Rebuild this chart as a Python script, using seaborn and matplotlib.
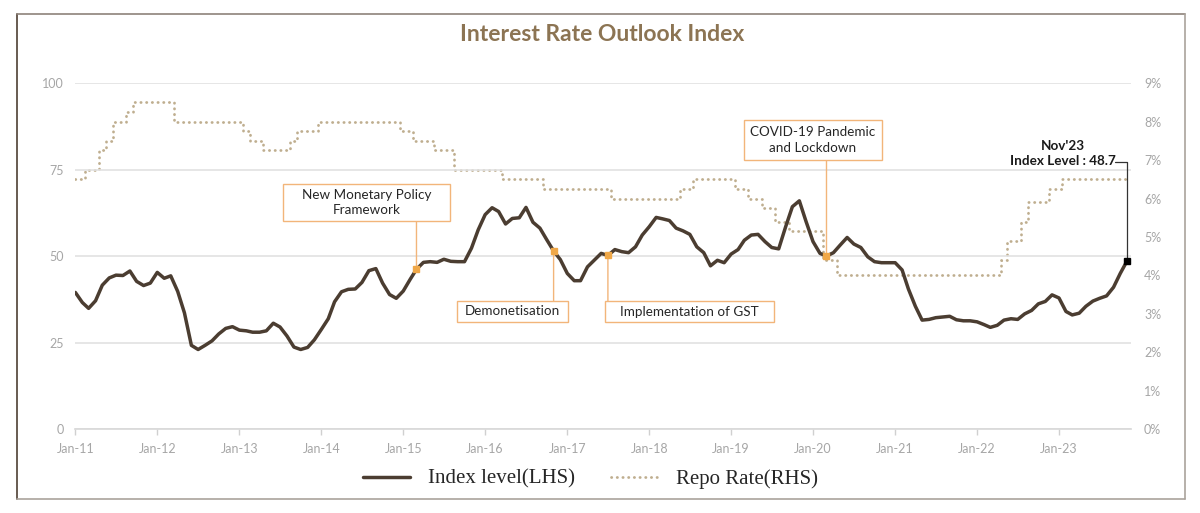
import pandas as pd
import matplotlib.pyplot as plt
import matplotlib.dates as mdates
import seaborn as sns
from matplotlib.lines import Line2D
from matplotlib.patches import Rectangle
from matplotlib.ticker import FuncFormatter

# Monthly data, Jan-11 to Nov-23
months = pd.date_range('2011-01-01', '2023-11-01', freq='MS')

index_level = [
    39.5, 36.6, 34.9, 37.1, 41.6, 43.7, 44.5, 44.4, 45.7, 42.7, 41.5, 42.2,  # 2011
    45.3, 43.6, 44.3, 39.8, 33.6, 24.2, 23.0, 24.2, 25.5, 27.5, 29.1, 29.6,  # 2012
    28.6, 28.4, 28.0, 28.0, 28.4, 30.6, 29.5, 26.9, 23.7, 23.0, 23.6, 25.8,  # 2013
    28.8, 31.9, 36.8, 39.7, 40.4, 40.5, 42.4, 45.8, 46.4, 42.2, 38.9, 37.8,  # 2014
    39.9, 43.3, 46.2, 48.2, 48.4, 48.2, 49.1, 48.5, 48.4, 48.4, 52.3, 57.6,  # 2015
    62.0, 64.0, 62.9, 59.3, 60.9, 61.1, 64.1, 59.8, 58.1, 54.8, 51.5, 49.0,  # 2016
    45.0, 42.9, 42.9, 46.9, 48.8, 50.8, 50.2, 51.9, 51.3, 51.0, 52.7, 56.1,  # 2017
    58.5, 61.2, 60.8, 60.3, 58.1, 57.3, 56.3, 52.7, 51.0, 47.2, 48.8, 48.1,  # 2018
    50.6, 51.9, 54.6, 56.1, 56.3, 54.2, 52.5, 52.1, 58.5, 64.3, 66.0, 60.0,  # 2019
    54.2, 50.8, 50.0, 51.0, 53.2, 55.4, 53.5, 52.5, 49.8, 48.4, 48.1, 48.1,  # 2020
    48.1, 46.0, 40.5, 35.5, 31.5, 31.7, 32.2, 32.4, 32.6, 31.6, 31.3, 31.3,  # 2021
    31.0, 30.2, 29.4, 30.0, 31.5, 31.9, 31.7, 33.3, 34.3, 36.2, 36.9, 38.8,  # 2022
    37.9, 34.0, 33.0, 33.5, 35.5, 37.0, 37.8, 38.5, 41.0, 45.0, 48.7,        # 2023
]

repo_rate = [
    6.5, 6.5, 6.75, 6.75, 7.25, 7.5, 8.0, 8.0, 8.25, 8.5, 8.5, 8.5,          # 2011
    8.5, 8.5, 8.5, 8.0, 8.0, 8.0, 8.0, 8.0, 8.0, 8.0, 8.0, 8.0,              # 2012
    8.0, 7.75, 7.5, 7.5, 7.25, 7.25, 7.25, 7.25, 7.5, 7.75, 7.75, 7.75,      # 2013
    8.0, 8.0, 8.0, 8.0, 8.0, 8.0, 8.0, 8.0, 8.0, 8.0, 8.0, 8.0,              # 2014
    7.75, 7.75, 7.5, 7.5, 7.5, 7.25, 7.25, 7.25, 6.75, 6.75, 6.75, 6.75,     # 2015
    6.75, 6.75, 6.75, 6.5, 6.5, 6.5, 6.5, 6.5, 6.5, 6.25, 6.25, 6.25,        # 2016
    6.25, 6.25, 6.25, 6.25, 6.25, 6.25, 6.25, 6.0, 6.0, 6.0, 6.0, 6.0,       # 2017
    6.0, 6.0, 6.0, 6.0, 6.0, 6.25, 6.25, 6.5, 6.5, 6.5, 6.5, 6.5,            # 2018
    6.5, 6.25, 6.25, 6.0, 6.0, 5.75, 5.75, 5.4, 5.4, 5.15, 5.15, 5.15,       # 2019
    5.15, 5.15, 4.4, 4.4, 4.0, 4.0, 4.0, 4.0, 4.0, 4.0, 4.0, 4.0,            # 2020
    4.0, 4.0, 4.0, 4.0, 4.0, 4.0, 4.0, 4.0, 4.0, 4.0, 4.0, 4.0,              # 2021
    4.0, 4.0, 4.0, 4.0, 4.4, 4.9, 4.9, 5.4, 5.9, 5.9, 5.9, 6.25,             # 2022
    6.25, 6.5, 6.5, 6.5, 6.5, 6.5, 6.5, 6.5, 6.5, 6.5, 6.5,                  # 2023
]

event_labels = ['New Monetary Policy\nFramework', 'Demonetisation',
                'Implementation of GST', 'COVID-19 Pandemic\nand Lockdown']
event_months = ['2015-03-01', '2016-11-01', '2017-07-01', '2020-03-01']

df = pd.DataFrame({'month': months, 'index_level': index_level, 'repo_rate': repo_rate})

idx_col = '#4b3d31'
repo_col = '#bfae8f'
orange = '#f2b57a'
grey_txt = '#a6a6a6'

sns.set_theme(style='white')
plt.rcParams['font.family'] = ['Lato', 'DejaVu Sans']

fig = plt.figure(figsize=(12, 5.13), dpi=100)
ax = fig.add_axes([0.0628, 0.1637, 0.8801, 0.674])
ax2 = ax.twinx()

sns.lineplot(data=df, x='month', y='repo_rate', ax=ax2, color=repo_col, linewidth=2.0,
             linestyle=(0, (0.1, 1.95)), dash_capstyle='round', drawstyle='steps-mid',
             errorbar=None, label='Repo Rate(RHS)', legend=False)
sns.lineplot(data=df, x='month', y='index_level', ax=ax, color=idx_col, linewidth=2.5,
             errorbar=None, label='Index level(LHS)', legend=False)

# index line on top of repo line
ax.set_zorder(ax2.get_zorder() + 1)
ax.patch.set_visible(False)

ax.set_xlim(pd.Timestamp('2011-01-01'), pd.Timestamp('2023-11-20'))
ax.set_ylim(0, 100)
ax.set_yticks([0, 25, 50, 75, 100])
ax2.set_ylim(0, 9)
ax2.set_yticks(range(10))
ax2.yaxis.set_major_formatter(FuncFormatter(lambda v, p: f'{v:.0f}%'))
ax.xaxis.set_major_locator(mdates.YearLocator())
ax.xaxis.set_major_formatter(mdates.DateFormatter('%b-%y'))

ax.yaxis.grid(True, color='#e2e2e2', linewidth=1.2)
ax.xaxis.grid(False)
ax2.grid(False)
for a in (ax, ax2):
    for s in ['top', 'left', 'right']:
        a.spines[s].set_visible(False)
    a.set_xlabel('')
    a.set_ylabel('')
ax.spines['bottom'].set_color('#d9d9d9')
ax2.spines['bottom'].set_visible(False)

ax.tick_params(axis='x', bottom=True, length=4, width=1, color='#d0d0d0',
               labelcolor=grey_txt, labelsize=9, pad=6)
ax.tick_params(axis='y', left=False, length=0, labelcolor=grey_txt, labelsize=9, pad=8.5)
ax2.tick_params(axis='y', right=False, length=0, labelcolor=grey_txt, labelsize=9, pad=9)

# event markers, boxes and connectors
lookup = df.set_index('month')['index_level']
ev_dates = pd.to_datetime(event_months)
ev_vals = lookup.loc[ev_dates].values
ax.plot(ev_dates, ev_vals, 's', color='#f0a848', markersize=4.2, zorder=7)

# box extents in axes fraction: (x0, y0, x1, y1)
boxes = [(0.1966, 0.6017, 0.3547, 0.7088),
         (0.3614, 0.3095, 0.4665, 0.3703),
         (0.5019, 0.3087, 0.6616, 0.3703),
         (0.6327, 0.7781, 0.7642, 0.8930)]

for lab, d, v, (x0, y0, x1, y1) in zip(event_labels, ev_dates, ev_vals, boxes):
    ax.add_patch(Rectangle((x0, y0), x1 - x0, y1 - y0, transform=ax.transAxes,
                           facecolor='white', edgecolor=orange, linewidth=1.0,
                           zorder=6, clip_on=False))
    ax.text((x0 + x1) / 2, (y0 + y1) / 2, lab, transform=ax.transAxes, ha='center',
            va='center', fontsize=9.7, color='#262626', linespacing=1.35, zorder=8)
    edge = y0 if y0 > v / 100 else y1
    ax.annotate('', xy=(mdates.date2num(d), v), xycoords='data',
                xytext=(mdates.date2num(d), edge), textcoords=('data', 'axes fraction'),
                arrowprops=dict(arrowstyle='-', color=orange, lw=1.0, shrinkA=0, shrinkB=0),
                zorder=5)

# latest value callout
last_date = df['month'].iloc[-1]
last_val = df['index_level'].iloc[-1]
ax.plot([last_date], [last_val], 's', color='black', markersize=4.2, zorder=7)
ax.text(0.9347, 0.797, f"{last_date.strftime('%b')}'{last_date.strftime('%y')}\nIndex Level : {last_val:.1f}",
        transform=ax.transAxes, ha='center', va='center', fontsize=9.7,
        fontweight='bold', color='#1a1a1a', linespacing=1.25)
ax.annotate('', xy=(mdates.date2num(last_date), last_val), xycoords='data',
            xytext=(0.9848, 0.7732), textcoords='axes fraction',
            arrowprops=dict(arrowstyle='-', connectionstyle='angle,angleA=0,angleB=90,rad=0',
                            color='#333333', lw=0.9, shrinkA=0, shrinkB=0))

# title
fig.text(0.5017, 0.932, 'Interest Rate Outlook Index', ha='center', va='center',
         fontsize=16.5, fontweight='bold', color='#8c7453')

# legend
h1, l1 = ax.get_legend_handles_labels()
h2, l2 = ax2.get_legend_handles_labels()
fig.legend(h1 + h2, l1 + l2, loc='center', bbox_to_anchor=(0.492, 0.0663), ncol=2,
           frameon=False, prop={'family': 'Liberation Serif', 'size': 15},
           handlelength=2.3, handletextpad=0.85, columnspacing=1.7)

# outer frame
fig.add_artist(Line2D([0.0144, 0.0144], [0.0273, 0.9733], transform=fig.transFigure,
                      color='#5c4e43', lw=1.3))
fig.add_artist(Line2D([0.0144, 0.9875], [0.9733, 0.9733], transform=fig.transFigure,
                      color='#8d837a', lw=1.2))
fig.add_artist(Line2D([0.9875, 0.9875], [0.0273, 0.9733], transform=fig.transFigure,
                      color='#aaa39c', lw=1.2))
fig.add_artist(Line2D([0.0144, 0.9875], [0.0273, 0.0273], transform=fig.transFigure,
                      color='#aaa39c', lw=1.2))

fig.savefig('out.png', dpi=100)
